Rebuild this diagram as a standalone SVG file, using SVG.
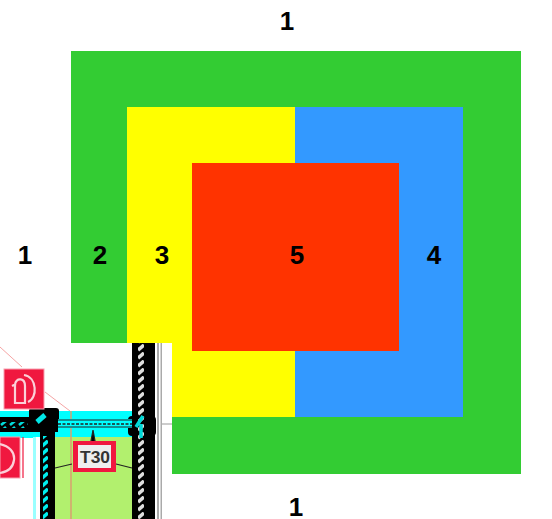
<svg xmlns="http://www.w3.org/2000/svg" width="552" height="519" viewBox="0 0 552 519">
<style>
.t{font-family:"Liberation Sans",Arial,sans-serif;font-size:26px;font-weight:bold;fill:#000;text-anchor:middle}
.sign{fill:#f0183f;stroke:#f7a0b0;stroke-width:1}
.g{fill:none;stroke:#fbd0d8;stroke-width:2.2}
</style>
<defs>
<pattern id="hw" width="6" height="8" patternUnits="userSpaceOnUse"><rect width="6" height="8" fill="#000"/><path d="M0 6L6 1" stroke="#ddd" stroke-width="3.6"/></pattern>
<pattern id="hc" width="6" height="8" patternUnits="userSpaceOnUse"><rect width="6" height="8" fill="#000"/><path d="M0 6L6 1" stroke="#00eeee" stroke-width="3.6"/></pattern>
<pattern id="hh" width="9" height="6" patternUnits="userSpaceOnUse"><rect width="9" height="6" fill="#000"/><path d="M1 5L6 1" stroke="#00dddd" stroke-width="2.6"/></pattern>
</defs>
<rect width="552" height="519" fill="#fff"/>
<g id="plan">
<path d="M0 347L22 367M45 392L70 411V519" fill="none" stroke="#f5a5a5" stroke-width="1"/>
<rect x="0" y="411" width="158" height="26" fill="#00ffff"/>
<rect x="0" y="437" width="36" height="82" fill="#fff"/>
<rect x="33" y="437" width="3" height="82" fill="#99ffff"/>
<rect x="36" y="437" width="4" height="82" fill="#fff"/>
<rect x="0" y="436" width="33" height="2" fill="#00ffff"/>
<rect x="55" y="437" width="77" height="82" fill="#b2f06e"/>
<path d="M71 411V519" fill="none" stroke="#d8a070" stroke-width="1.5"/>
<rect x="155" y="343" width="2" height="176" fill="#fff"/>
<rect x="157" y="343" width="5" height="176" fill="#aaa"/>
<rect x="159" y="343" width="1.5" height="176" fill="#fff"/>
<path d="M162 424H172" stroke="#999" stroke-width="1"/>
<rect x="0" y="417" width="58" height="15" fill="#000"/>
<rect x="29" y="408" width="30" height="15" rx="3" fill="#000"/>
<rect x="40" y="417" width="15" height="102" fill="#000"/>
<rect x="132" y="343" width="23" height="176" fill="#000"/>
<rect x="128" y="416" width="28" height="20" rx="4" fill="#000"/>
<rect x="58" y="419" width="74" height="9" fill="#00ffff"/>
<path d="M58 420H132M58 427H132" stroke="#222" stroke-width="1.2"/>
<path d="M58 424H132" stroke="#222" stroke-width="1.5" stroke-dasharray="3 1.5"/>
<rect x="43" y="436" width="5" height="83" fill="url(#hc)"/>
<rect x="0" y="422" width="28" height="6" fill="url(#hh)"/>
<path d="M37 422L45 415" stroke="#00e8e8" stroke-width="5"/>
<rect x="138" y="343" width="6" height="176" fill="url(#hw)"/>
<path d="M136 427L143 416M141 438V424" stroke="#00d8d8" stroke-width="3.5"/>
<path d="M55 468L72 464M116 464L132 468M93 442L91 441L93 430L95 441Z" fill="#000" stroke="#222" stroke-width="1.2"/>
</g>
<g id="sign-top">
<rect class="sign" x="4" y="369" width="40" height="40"/>
<path class="g" d="M24 375C37 377 38 398 28 402M16 384L12 386M15 384V403H25V386C25 378 17 377 15 384"/>
</g>
<g id="sign-left">
<rect class="sign" x="0" y="437" width="20" height="41"/>
<path d="M23 437V478" stroke="#f0183f" stroke-width="1.2"/>
<path class="g" d="M0 444C9 446 15 452 14 460C13 468 7 472 0 473"/>
</g>
<g id="sign-t30">
<rect x="73" y="441" width="43" height="31" fill="#f0183f"/>
<rect x="78" y="445" width="33" height="23" fill="#eee"/>
<text x="95" y="463" font-family="'Liberation Sans',Arial,sans-serif" font-size="17" font-weight="bold" fill="#333" text-anchor="middle" textLength="30" lengthAdjust="spacingAndGlyphs">T30</text>
</g>
<g id="zone-2">
<path d="M71 51H521V474H172V343H71Z" fill="#33cc33"/>
</g>
<g id="zone-3">
<path d="M127 107H295V417H172V343H127Z" fill="#ffff00"/>
</g>
<g id="zone-4">
<rect x="295" y="107" width="168" height="310" fill="#3399ff"/>
</g>
<g id="zone-5">
<rect x="192" y="163" width="207" height="188" fill="#ff3300"/>
</g>
<g id="labels">
<text class="t" x="287" y="30">1</text>
<text class="t" x="25" y="264">1</text>
<text class="t" x="100" y="264">2</text>
<text class="t" x="162" y="264">3</text>
<text class="t" x="297" y="264">5</text>
<text class="t" x="434" y="264">4</text>
<text class="t" x="296" y="516">1</text>
</g>
</svg>
